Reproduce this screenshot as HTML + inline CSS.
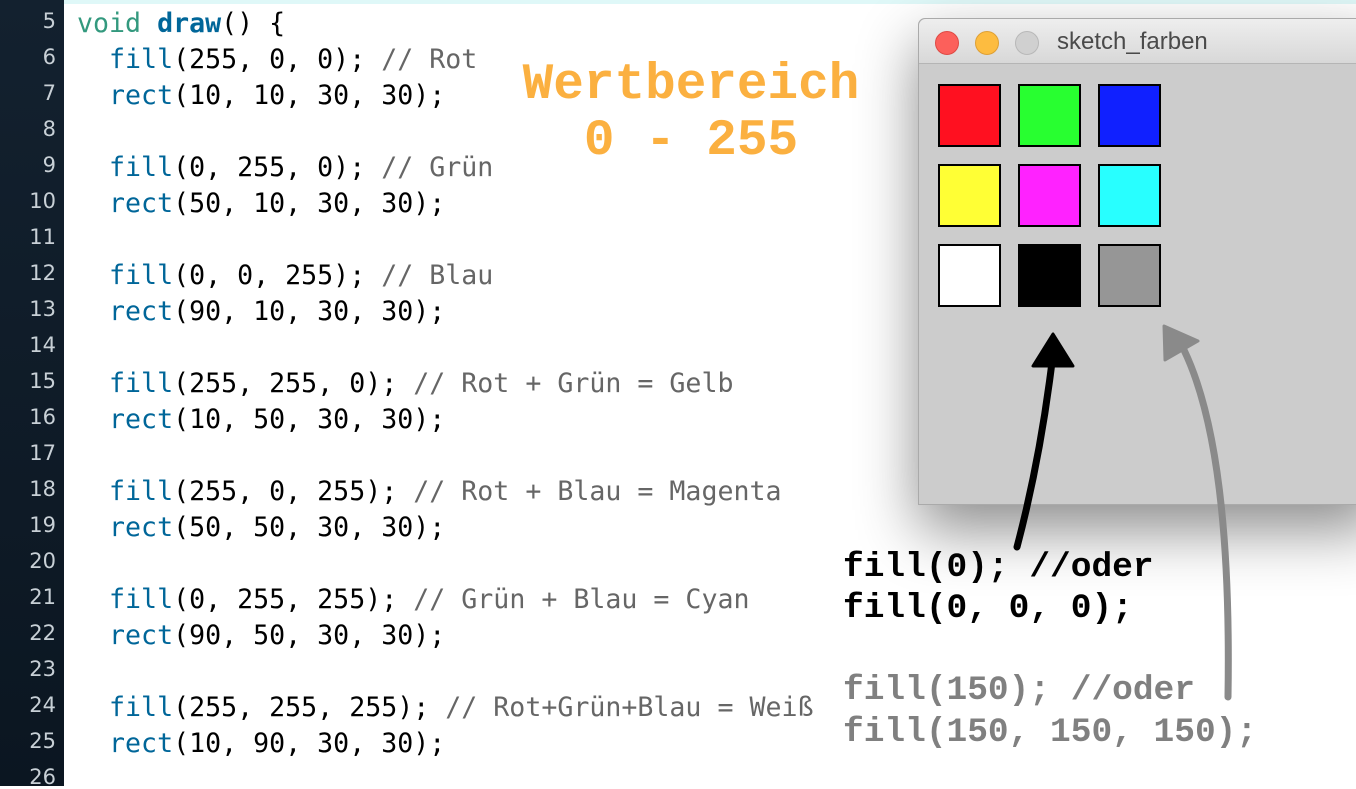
<!DOCTYPE html>
<html><head><meta charset="utf-8"><style>
body{margin:0;width:1356px;height:786px;overflow:hidden;background:#fff;position:relative;font-family:"DejaVu Sans Mono","Liberation Mono",monospace}
#top{position:absolute;left:0;top:0;width:1356px;height:4px;background:#dff8f8}
#gut{position:absolute;left:0;top:0;width:64px;height:786px;background:linear-gradient(#13212f,#0b1621)}
.ln{position:absolute;left:6px;width:50px;text-align:right;color:#c8d0d6;font:21px "DejaVu Sans",sans-serif}
.c{position:absolute;left:77px;font-size:26.6px;white-space:pre;color:#000;line-height:36px}
.f{color:#006699}.k{color:#33997e}.b{color:#006699;font-weight:bold}.m{color:#666}
#win{position:absolute;left:918px;top:18px;width:460px;height:485px;background:#cccccc;border:1px solid #aaa;border-radius:7px 0 0 0;box-shadow:0 25px 60px rgba(0,0,0,.45)}
#tb{height:44px;background:linear-gradient(#eeeeee,#d8d8d8);border-bottom:1px solid #b5b5b5;border-radius:7px 0 0 0;position:relative}
.dot{position:absolute;top:12px;width:23px;height:23px;border-radius:50%}
.sq{position:absolute;width:59px;height:59px;border:2px solid #000}
.big{position:absolute;font-family:"Liberation Mono",monospace;font-weight:bold;white-space:pre}
</style></head><body>
<div id="top"></div><div id="gut"></div>
<div class="ln" style="top:9px">5</div><div class="ln" style="top:45px">6</div><div class="ln" style="top:81px">7</div><div class="ln" style="top:117px">8</div><div class="ln" style="top:153px">9</div><div class="ln" style="top:189px">10</div><div class="ln" style="top:225px">11</div><div class="ln" style="top:261px">12</div><div class="ln" style="top:297px">13</div><div class="ln" style="top:333px">14</div><div class="ln" style="top:369px">15</div><div class="ln" style="top:405px">16</div><div class="ln" style="top:441px">17</div><div class="ln" style="top:477px">18</div><div class="ln" style="top:513px">19</div><div class="ln" style="top:549px">20</div><div class="ln" style="top:585px">21</div><div class="ln" style="top:621px">22</div><div class="ln" style="top:657px">23</div><div class="ln" style="top:693px">24</div><div class="ln" style="top:729px">25</div><div class="ln" style="top:765px">26</div>
<div class="c" style="top:6px"><span class="k">void</span> <span class="b">draw</span>() {
  <span class="f">fill</span>(255, 0, 0); <span class="m">// Rot</span>
  <span class="f">rect</span>(10, 10, 30, 30);

  <span class="f">fill</span>(0, 255, 0); <span class="m">// Grün</span>
  <span class="f">rect</span>(50, 10, 30, 30);

  <span class="f">fill</span>(0, 0, 255); <span class="m">// Blau</span>
  <span class="f">rect</span>(90, 10, 30, 30);

  <span class="f">fill</span>(255, 255, 0); <span class="m">// Rot + Grün = Gelb</span>
  <span class="f">rect</span>(10, 50, 30, 30);

  <span class="f">fill</span>(255, 0, 255); <span class="m">// Rot + Blau = Magenta</span>
  <span class="f">rect</span>(50, 50, 30, 30);

  <span class="f">fill</span>(0, 255, 255); <span class="m">// Grün + Blau = Cyan</span>
  <span class="f">rect</span>(90, 50, 30, 30);

  <span class="f">fill</span>(255, 255, 255); <span class="m">// Rot+Grün+Blau = Weiß</span>
  <span class="f">rect</span>(10, 90, 30, 30);
</div>
<div class="big" style="left:519px;top:58px;font-size:51px;color:#fbb040;line-height:56px;text-align:center;width:344px">Wertbereich
0 - 255</div>
<div id="win"><div id="tb">
<div class="dot" style="left:16px;background:#fc605b;border:1px solid #de4a44;width:22px;height:22px"></div>
<div class="dot" style="left:56px;background:#fdbc40;border:1px solid #dea035;width:22px;height:22px"></div>
<div class="dot" style="left:96px;background:#d0d0d0;border:1px solid #b8b8b8;width:22px;height:22px"></div>
<div style="position:absolute;left:138px;top:9px;font:24px 'Liberation Sans',sans-serif;color:#4a4a4a">sketch_farben</div></div>
<div class="sq" style="left:19px;top:65px;background:#ff1020"></div>
<div class="sq" style="left:99px;top:65px;background:#28ff30"></div>
<div class="sq" style="left:179px;top:65px;background:#1020ff"></div>
<div class="sq" style="left:19px;top:145px;background:#ffff35"></div>
<div class="sq" style="left:99px;top:145px;background:#ff22ff"></div>
<div class="sq" style="left:179px;top:145px;background:#28ffff"></div>
<div class="sq" style="left:19px;top:225px;background:#fff"></div>
<div class="sq" style="left:99px;top:225px;background:#000"></div>
<div class="sq" style="left:179px;top:225px;background:#969696"></div>
</div>
<div class="big" style="left:843px;top:547px;font-size:34.5px;line-height:41px;color:#000">fill(0); //oder
fill(0, 0, 0);</div>
<div class="big" style="left:843px;top:670px;font-size:34.5px;line-height:42px;color:#808080">fill(150); //oder
fill(150, 150, 150);</div>
<svg style="position:absolute;left:0;top:0" width="1356" height="786">
<path d="M1017 547 Q1040 460 1052 362" stroke="#000" stroke-width="7" fill="none" stroke-linecap="round"/>
<polygon points="1053,334 1033,366 1073,366" fill="#000" stroke="#000" stroke-width="3" stroke-linejoin="round"/>
<path d="M1228 697 Q1232 450 1184 350" stroke="#8a8a8a" stroke-width="7" fill="none" stroke-linecap="round"/>
<polygon points="1164,326 1165,360 1198,341" fill="#8a8a8a" stroke="#8a8a8a" stroke-width="3" stroke-linejoin="round"/>
</svg>
</body></html>
